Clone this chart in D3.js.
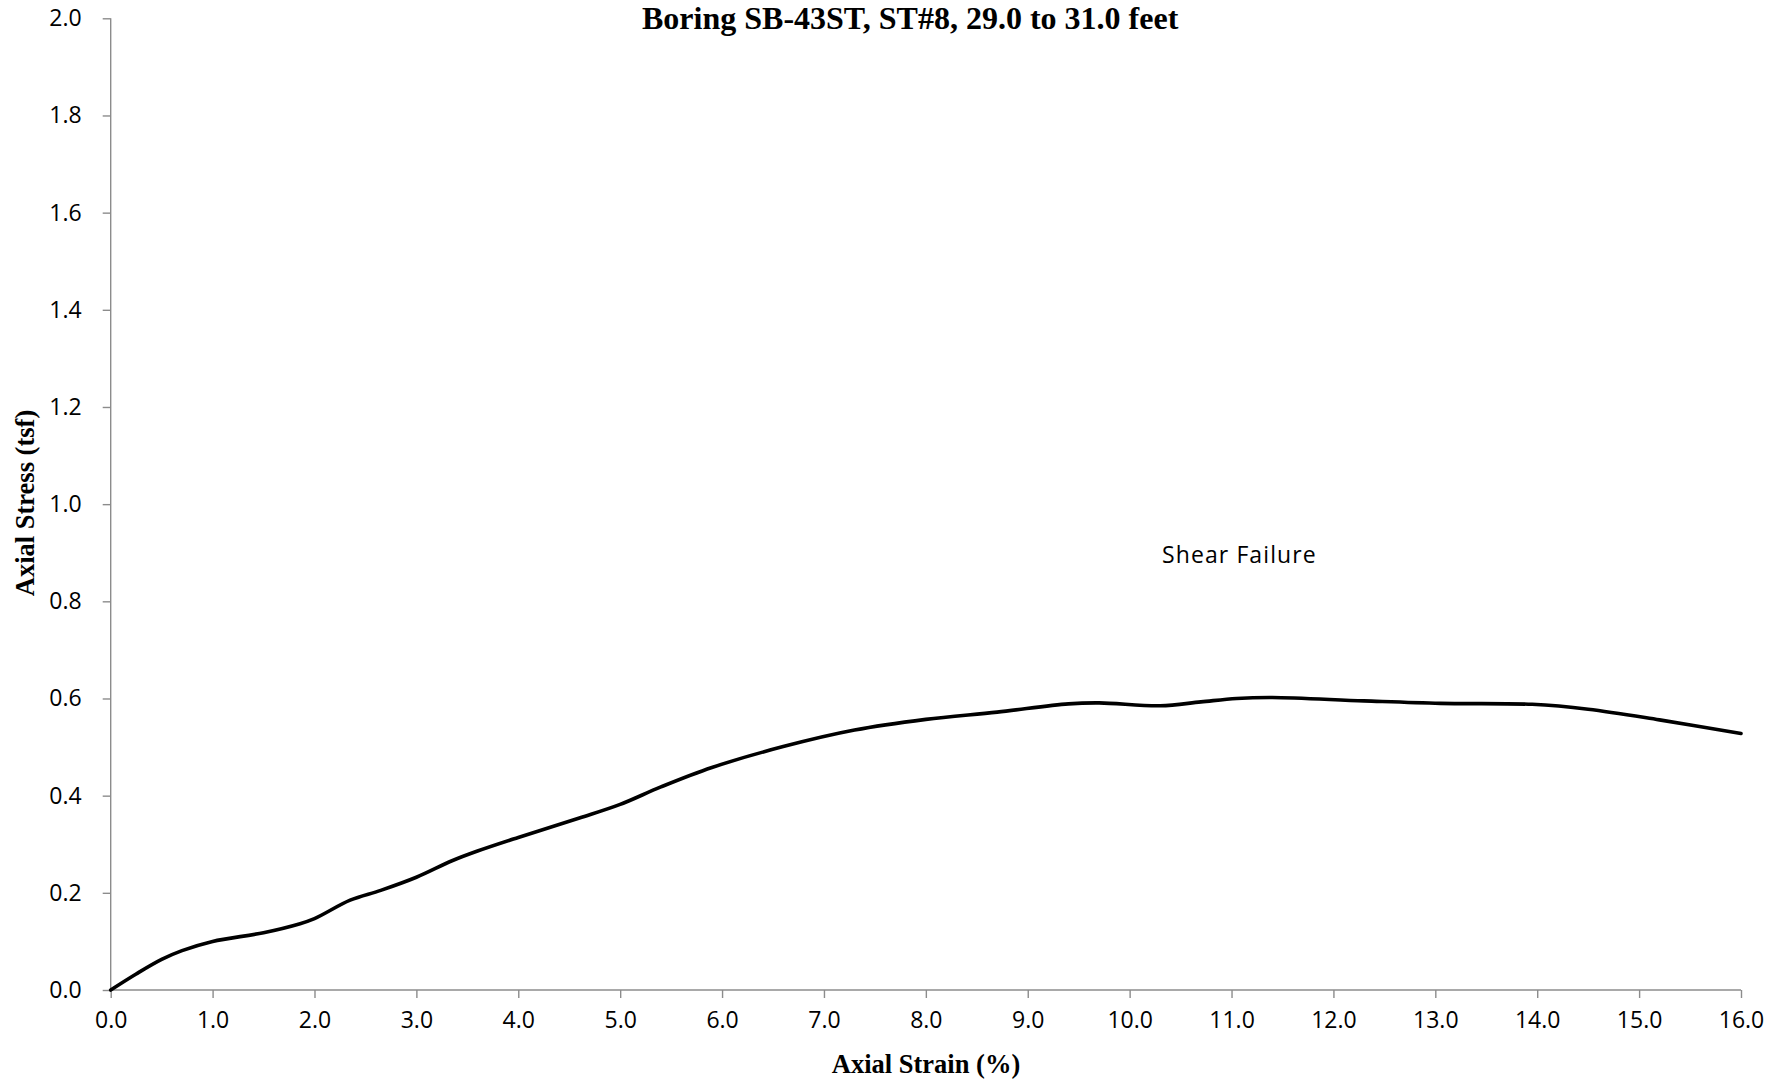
<!DOCTYPE html>
<html>
<head>
<meta charset="utf-8">
<script src="https://cdn.jsdelivr.net/npm/d3@7"></script>
<style>
  html, body { margin: 0; padding: 0; background: #fff; }
  svg { display: block; }
</style>
</head>
<body>
<svg id="chart" width="1783" height="1080"></svg>
<script>
const titleText = "Boring SB-43ST, ST#8, 29.0 to 31.0 feet";
const xLabel = "Axial Strain (%)";
const yLabel = "Axial Stress (tsf)";
const annotation = "Shear Failure";
const xTicks = [0,1,2,3,4,5,6,7,8,9,10,11,12,13,14,15,16];
const yTicks = [0,0.2,0.4,0.6,0.8,1.0,1.2,1.4,1.6,1.8,2.0];
const strain = [0,0.25,0.5,0.7,1.0,1.5,1.85,2.0,2.35,2.65,3.0,3.35,3.6,4.0,4.6,5.0,5.4,5.9,6.6,7.3,8.0,8.7,9.4,9.7,10.3,10.7,11.05,11.4,12.3,13.05,13.95,14.5,15.2,16.0];
const stress = [0,0.033,0.063,0.081,0.100,0.118,0.136,0.147,0.185,0.205,0.232,0.266,0.286,0.314,0.354,0.382,0.418,0.458,0.501,0.535,0.557,0.572,0.589,0.591,0.585,0.593,0.600,0.602,0.595,0.590,0.588,0.578,0.556,0.528];

const svg = d3.select("#chart");
const pLeft = 110.7, pRight = 1741, pTop = 18.3, pBottom = 990;
const x = d3.scaleLinear().domain([0,16]).range([pLeft,pRight]);
const y = d3.scaleLinear().domain([0,2]).range([pBottom,pTop]);
const axisColor = "#8c8c8c";
const tickFont = "'Open Sans', sans-serif";
const serif = "'Liberation Serif', 'Times New Roman', serif";

const xAxis = svg.append("g").attr("transform", `translate(0,${pBottom})`)
  .call(d3.axisBottom(x).tickValues(xTicks).tickSize(8).tickPadding(14).tickFormat(d3.format(".1f")));
const yAxis = svg.append("g").attr("transform", `translate(${pLeft},0)`)
  .call(d3.axisLeft(y).tickValues(yTicks).tickSize(8).tickPadding(21).tickFormat(d3.format(".1f")));
[xAxis, yAxis].forEach(g => {
  g.select(".domain").attr("stroke", axisColor).attr("stroke-width", 1.4);
  g.selectAll(".tick line").attr("stroke", axisColor).attr("stroke-width", 1.4);
  g.selectAll(".tick text").attr("fill", "#000").style("font-family", tickFont).style("font-size", "23px");
});
xAxis.select(".domain").attr("d", `M${pLeft},0H${pRight}`);
yAxis.select(".domain").attr("d", `M0,${pBottom}V${pTop}`);

const line = d3.line().x((d,i) => x(strain[i])).y((d,i) => y(stress[i])).curve(d3.curveCatmullRom.alpha(0.5));
svg.append("path").datum(stress).attr("d", line)
  .attr("fill", "none").attr("stroke", "#000").attr("stroke-width", 3.6)
  .attr("stroke-linejoin", "round").attr("stroke-linecap", "round");

svg.append("text").attr("x", 642).attr("y", 28.6).attr("text-anchor", "start")
  .style("font-family", serif).style("font-weight", "bold").style("font-size", "32px")
  .text(titleText);
svg.append("text").attr("x", 926).attr("y", 1073).attr("text-anchor", "middle")
  .style("font-family", serif).style("font-weight", "bold").style("font-size", "26.5px")
  .text(xLabel);
svg.append("text").attr("transform", "translate(34,503) rotate(-90)").attr("text-anchor", "middle")
  .style("font-family", serif).style("font-weight", "bold").style("font-size", "26.5px")
  .text(yLabel);
svg.append("text").attr("x", 1162).attr("y", 563)
  .style("font-family", tickFont).style("font-size", "23px").style("letter-spacing", "1.1px")
  .text(annotation);
</script>
</body>
</html>
